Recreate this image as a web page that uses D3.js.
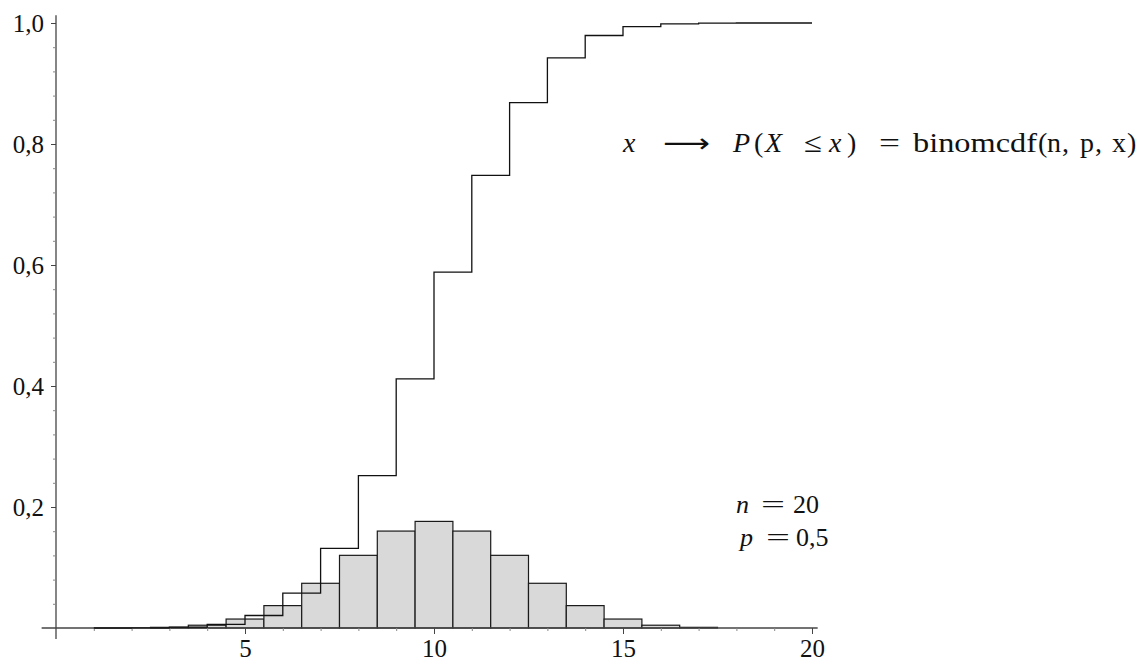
<!DOCTYPE html>
<html>
<head>
<meta charset="utf-8">
<script src="https://d3js.org/d3.v7.min.js"></script>
<style>
  body { margin:0; background:#fff; }
  svg text { font-family:"Liberation Serif", "DejaVu Serif", serif; fill:#111; }
</style>
</head>
<body>
<div id="chart"></div>
<script>
// binomial n=20, p=0.5 : histogram bars (k -> P(X=k))
var barK = [3,4,5,6,7,8,9,10,11,12,13,14,15,16,17];
var barP = [0.0011,0.0046,0.0148,0.0370,0.0739,0.1201,0.1602,0.1762,0.1602,0.1201,0.0739,0.0370,0.0148,0.0046,0.0011];
// cumulative step line (x -> P(X <= x))
var cdfX = [1,2,3,4,5,6,7,8,9,10,11,12,13,14,15,16,17,18,19,20];
var cdfF = [0.00002,0.0002,0.0013,0.0059,0.0207,0.0577,0.1316,0.2517,0.4119,0.5881,0.7483,0.8684,0.9423,0.9793,0.9941,0.9987,0.9998,1.0,1.0,1.0];
var xMajor = [5,10,15,20];
var yMajor = [0.2,0.4,0.6,0.8,1.0];

const W = 1145, H = 661;
const svg = d3.select("#chart").append("svg")
  .attr("width", W).attr("height", H);

var x = d3.scaleLinear().domain([0,20]).range([56,812]);
var y = d3.scaleLinear().domain([0,1]).range([628,23]);

// bars
svg.append("g").selectAll("rect")
  .data(barK)
  .enter().append("rect")
  .attr("x", (d)=> x(d-0.5))
  .attr("width", (d)=> x(d+0.5)-x(d-0.5))
  .attr("y", (d,i)=> y(barP[i]))
  .attr("height", (d,i)=> y(0)-y(barP[i]))
  .attr("fill", "#d9d9d9")
  .attr("stroke", "#1a1a1a")
  .attr("stroke-width", 1.2);

// axes lines
var axisCol = "#444";
svg.append("line")
  .attr("x1", x(-0.38)).attr("x2", x(20.15))
  .attr("y1", y(0)).attr("y2", y(0))
  .attr("stroke", axisCol).attr("stroke-width", 1.3);
svg.append("line")
  .attr("x1", x(0)).attr("x2", x(0))
  .attr("y1", y(1.013)).attr("y2", y(-0.018))
  .attr("stroke", axisCol).attr("stroke-width", 1.3);

// minor ticks
var xMinor = d3.range(1,21).filter((d)=> xMajor.indexOf(d) < 0);
svg.append("g")
  .attr("transform", "translate(0,"+y(0)+")")
  .call(d3.axisBottom(x).tickValues(xMinor).tickSize(3).tickFormat(""))
  .call(g => g.select(".domain").remove())
  .call(g => g.selectAll("line").attr("stroke", "#888"));
var yMinor = d3.range(1,25).map((d)=> d*0.04).filter((d)=> Math.abs(d*5 - Math.round(d*5)) > 1e-6);
svg.append("g")
  .attr("transform", "translate("+x(0)+",0)")
  .call(d3.axisLeft(y).tickValues(yMinor).tickSize(3).tickFormat(""))
  .call(g => g.select(".domain").remove())
  .call(g => g.selectAll("line").attr("stroke", "#888"));

// major ticks + labels
svg.append("g")
  .attr("transform", "translate(0,"+y(0)+")")
  .call(d3.axisBottom(x).tickValues(xMajor).tickSize(6).tickPadding(5).tickFormat(d3.format("d")))
  .call(g => g.select(".domain").remove())
  .call(g => g.selectAll("line").attr("stroke", axisCol))
  .call(g => g.selectAll("text").attr("font-size", 25));
svg.append("g")
  .attr("transform", "translate("+x(0)+",0)")
  .call(d3.axisLeft(y).tickValues(yMajor).tickSize(5).tickPadding(7)
    .tickFormat((d)=> d.toFixed(1).replace(".", ",")))
  .call(g => g.select(".domain").remove())
  .call(g => g.selectAll("line").attr("stroke", axisCol))
  .call(g => g.selectAll("text").attr("font-size", 25));

// cdf step line
var pts = cdfX.map((d,i)=> [d, cdfF[i]]);
svg.append("path")
  .datum(pts)
  .attr("fill", "none")
  .attr("stroke", "#111")
  .attr("stroke-width", 1.3)
  .attr("d", d3.line().x((d)=> x(d[0])).y((d)=> y(d[1])).curve(d3.curveStepAfter));

// formula, piece by piece (TeX-like spacing)
function piece(parent, px, txt, ital, len) {
  var t = parent.append("tspan").attr("x", px).text(txt);
  if (ital) t.attr("font-style", "italic");
  if (len) t.attr("textLength", len).attr("lengthAdjust", "spacingAndGlyphs");
  return t;
}
var f = svg.append("text").attr("y", 152).attr("font-size", 28);
piece(f, 623, "x", true);
piece(f, 663, "⟶", false, 47).style("font-family", "DejaVu Sans").attr("font-size", 26);
piece(f, 733, "P", true);
piece(f, 754, "(");
piece(f, 765, "X", true);
piece(f, 804, "≤", false, 18);
piece(f, 829, "x", true);
piece(f, 847, ")");
piece(f, 879, "=", false, 21);
piece(f, 913, "binomcdf", false, 124);
piece(f, 1038, "(");
piece(f, 1047, "n");
piece(f, 1062, ",");
piece(f, 1080, "p");
piece(f, 1095, ",");
piece(f, 1112, "x");
piece(f, 1127, ")");

// parameters
var t1 = svg.append("text").attr("y", 513).attr("font-size", 26);
piece(t1, 736, "n", true);
piece(t1, 761, "=", false, 24);
piece(t1, 793, "20");
var t2 = svg.append("text").attr("y", 546).attr("font-size", 26);
piece(t2, 740, "p", true);
piece(t2, 766, "=", false, 24);
piece(t2, 796, "0,5");
</script>
</body>
</html>
